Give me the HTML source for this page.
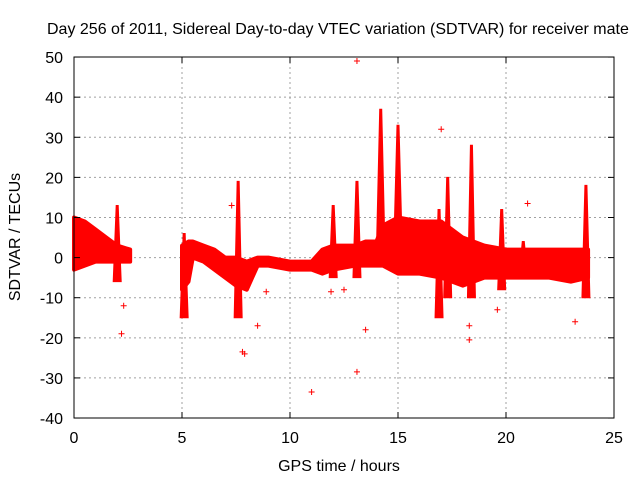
<!DOCTYPE html>
<html><head><meta charset="utf-8"><style>
body{margin:0;background:#fff}
svg text{font-family:"Liberation Sans",sans-serif;font-size:16px;fill:#000}
</style></head><body>
<svg id="chart" width="640" height="480" viewBox="0 0 640 480" xmlns="http://www.w3.org/2000/svg">
<rect width="640" height="480" fill="#fff"/>
<g id="grid"></g>
<g id="bands"></g>
<g id="pts"></g>
<g id="axes"></g>
<text x="47" y="34">Day 256 of 2011, Sidereal Day-to-day VTEC variation (SDTVAR) for receiver mate</text>
<text x="339" y="471" text-anchor="middle">GPS time / hours</text>
<text transform="translate(20,237) rotate(-90)" text-anchor="middle">SDTVAR / TECUs</text>
</svg>
<script>
const xTicks=[0,5,10,15,20,25];
const yTicks=[-40,-30,-20,-10,0,10,20,30,40,50];
// dense band segments: time, upper, lower
const seg1T=[0,0.5,1,1.5,2,2.6];
const seg1U=[10,9,7,5,3,2];
const seg1L=[-3,-2,-1,-1,-1,-1];
const seg2T=[5,5.3,5.5,6,6.5,7,7.5,8,8.5,9,10,11,11.5,12,13,13.5,14,14.3,15,16,17,18,19,20,21,22,23,23.8];
const seg2U=[3,4,4,3,2,0,0,-1,0,0,-1,-1,2,3,3,4,4,8,10,9,9,5,3,2,2,2,2,2];
const seg2L=[-8,-6,0,-1,-3,-5,-7,-8,-2,-2,-3,-3,-4,-3,-2,-2,-2,-2,-4,-4,-5,-7,-5,-5,-5,-5,-6,-5];
// vertical spike streaks: time, top, bottom
const spikeT=[14.2,15,13.1,17.3,18.4,19.8,7.6,5.1,12,23.7,2,20.8,16.9];
const spikeTop=[37,33,19,20,28,12,19,6,13,18,13,4,12];
const spikeBot=[5,5,-5,-10,-10,-8,-15,-15,-5,-10,-6,-4,-15];
// outlier points
const outT=[13.1,13.1,11,2.2,17,18.3,7.9,12.5,21,23.2,8.5,13.5,7.3,18.3,19.6,7.8,8.9,11.9,2.3];
const outV=[49,-28.5,-33.5,-19,32,-20.5,-24,-8,13.5,-16,-17,-18,13,-17,-13,-23.5,-8.5,-8.5,-12];

const X=t=>74+t*21.6;
const Y=v=>257.6-v*4.011;
const NS="http://www.w3.org/2000/svg";
function mk(tag,attrs,parent){const e=document.createElementNS(NS,tag);for(const k in attrs)e.setAttribute(k,attrs[k]);parent.appendChild(e);return e;}
const grid=document.getElementById('grid'),axes=document.getElementById('axes'),bands=document.getElementById('bands'),pts=document.getElementById('pts');
xTicks.forEach(t=>{
 const l=mk('line',{x1:X(t),x2:X(t),y1:57,y2:418,stroke:'#a0a0a0','stroke-dasharray':'2,3'},grid);
 
 
 const tx=mk('text',{x:X(t),y:443,'text-anchor':'middle'},axes);tx.textContent=t;
 
 
 mk('line',{x1:X(t),x2:X(t),y1:418,y2:412,stroke:'#000'},axes);
 mk('line',{x1:X(t),x2:X(t),y1:57,y2:63,stroke:'#000'},axes);
});
yTicks.forEach(v=>{
 const l=mk('line',{x1:74,x2:614,y1:Y(v),y2:Y(v),stroke:'#a0a0a0','stroke-dasharray':'2,3'},grid);
 
 
 const tx=mk('text',{x:63,y:Y(v)+6,'text-anchor':'end'},axes);tx.textContent=v;
 
 
 mk('line',{x1:74,x2:80,y1:Y(v),y2:Y(v),stroke:'#000'},axes);
 mk('line',{x1:608,x2:614,y1:Y(v),y2:Y(v),stroke:'#000'},axes);
});
const border=mk('rect',{x:74,y:57,width:540,height:361,fill:'none',stroke:'#000'},axes);


function band(T,U,L,name){
 let d='M'+T.map((t,i)=>X(t)+','+Y(U[i])).join(' L');
 for(let i=T.length-1;i>=0;i--)d+=' L'+X(T[i])+','+Y(L[i]);
 const p=mk('path',{d:d+'Z',fill:'#ff0000',stroke:'#ff0000','stroke-width':4,'stroke-linejoin':'round'},bands);
 
 
}
band(seg1T,seg1U,seg1L,'data-band-early');
band(seg2T,seg2U,seg2L,'data-band-main');
spikeT.forEach((t,i)=>{
 const x=X(t),yt=Y(spikeTop[i]),yb=Y(spikeBot[i]);
 const p=mk('path',{d:`M${x-1},${yt} L${x+1},${yt} L${x+4},${yb} L${x-4},${yb} Z`,fill:'#ff0000',stroke:'#ff0000','stroke-width':1},bands);
 
 
});
outT.forEach((t,i)=>{
 const x=X(t),y=Y(outV[i]);
 const p=mk('path',{d:`M${x-3},${y}H${x+3}M${x},${y-3}V${y+3}`,stroke:'#ff0000','stroke-width':1},pts);
 
 
});
</script>
</body></html>
